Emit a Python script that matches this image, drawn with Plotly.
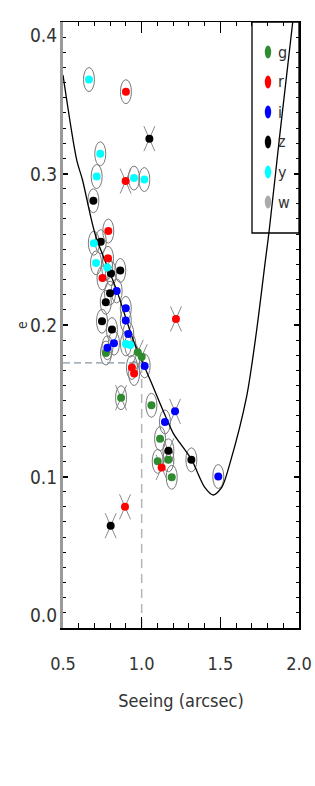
import plotly.graph_objects as go

# ---------------- data ----------------
band_names = ["g", "r", "i", "z", "y", "w"]
band_colors = ["#2e8b2e", "#ff0000", "#0000ff", "#000000", "#00ffff", "#aaaaaa"]

# seeing (arcsec), ellipticity, flags: ring (1/0), cross (1/0)
g_seeing = [0.773, 0.975, 1.000, 0.869, 1.062, 1.117, 1.102, 1.170, 1.191]
g_e      = [0.1815, 0.182, 0.179, 0.152, 0.147, 0.125, 0.110, 0.111, 0.0995]
g_ring   = [1, 0, 0, 1, 1, 1, 1, 1, 1]
g_cross  = [0, 1, 1, 1, 0, 0, 0, 0, 0]

r_seeing = [0.900, 0.898, 0.788, 0.786, 0.751, 1.218, 0.938, 0.952, 1.127, 0.894]
r_e      = [0.354, 0.295, 0.262, 0.244, 0.231, 0.204, 0.172, 0.168, 0.106, 0.080]
r_ring   = [1, 0, 1, 1, 1, 0, 1, 1, 0, 0]
r_cross  = [0, 1, 0, 0, 0, 1, 0, 0, 1, 1]

i_seeing = [0.841, 0.899, 0.899, 0.915, 0.824, 0.782, 1.019, 1.212, 1.148, 1.487]
i_e      = [0.2225, 0.211, 0.203, 0.194, 0.188, 0.185, 0.173, 0.143, 0.136, 0.100]
i_ring   = [1, 1, 1, 1, 1, 1, 1, 0, 1, 1]
i_cross  = [0, 0, 0, 0, 0, 0, 0, 1, 0, 0]

z_seeing = [1.049, 0.693, 0.740, 0.864, 0.805, 0.799, 0.772, 0.748, 0.811, 1.170, 1.316, 0.803]
z_e      = [0.323, 0.282, 0.255, 0.236, 0.234, 0.221, 0.215, 0.2025, 0.197, 0.117, 0.111, 0.0675]
z_ring   = [0, 1, 1, 1, 1, 1, 1, 1, 1, 1, 1, 0]
z_cross  = [1, 0, 0, 0, 0, 0, 0, 0, 0, 1, 0, 1]

y_seeing = [0.665, 0.737, 0.714, 0.951, 1.017, 0.696, 0.710, 0.781, 0.900, 0.928]
y_e      = [0.362, 0.313, 0.298, 0.297, 0.296, 0.254, 0.241, 0.238, 0.1875, 0.1868]
y_ring   = [1, 1, 1, 1, 1, 1, 1, 1, 1, 1]
y_cross  = [0, 0, 0, 0, 0, 0, 0, 0, 0, 0]

w_seeing = []
w_e      = []
w_ring   = []
w_cross  = []

# fitted curve, sampled from the figure
curve_seeing = [0.50, 0.587, 0.624, 0.706, 0.841, 0.947, 1.053, 1.201, 1.244, 1.318,
                1.400, 1.455, 1.510, 1.561, 1.667, 1.731, 1.784, 1.811, 1.879, 1.960]
curve_e      = [0.365, 0.309, 0.2957, 0.2594, 0.223, 0.190, 0.164, 0.1285, 0.122, 0.111,
                0.093, 0.0878, 0.093, 0.1087, 0.1527, 0.1967, 0.2407, 0.2627, 0.3265, 0.3998]

ref_seeing = 1.0
ref_e = 0.175

x_ticks = [0.5, 1.0, 1.5, 2.0]
x_ticktext = ["0.5", "1.0", "1.5", "2.0"]
y_ticks = [0.0, 0.1, 0.2, 0.3, 0.4]
y_ticktext = ["0.0", "0.1", "0.2", "0.3", "0.4"]

bands = [
    (g_seeing, g_e, g_ring, g_cross),
    (r_seeing, r_e, r_ring, r_cross),
    (i_seeing, i_e, i_ring, i_cross),
    (z_seeing, z_e, z_ring, z_cross),
    (y_seeing, y_e, y_ring, y_cross),
    (w_seeing, w_e, w_ring, w_cross),
]

# ---------------- figure ----------------
W, H = 315, 786
ml, mr, mt, mb = 63, 16, 22, 158
pw, ph = W - ml - mr, H - mt - mb
xr = (0.5, 2.0)
yr = (0.0, 0.4)
px_x = (xr[1] - xr[0]) / pw   # data units per px
px_y = (yr[1] - yr[0]) / ph

FONT = "Liberation Sans Narrow, DejaVu Sans Condensed, Arial Narrow, sans-serif"
TXT = "#333333"

fig = go.Figure()
shapes = []

# reference dashed lines
fig.add_trace(go.Scatter(x=[xr[0], ref_seeing], y=[ref_e, ref_e], mode="lines",
                         line=dict(color="#8595a5", width=1.3, dash="7px,4px"),
                         showlegend=False, hoverinfo="skip"))
fig.add_trace(go.Scatter(x=[ref_seeing, ref_seeing], y=[yr[0], ref_e], mode="lines",
                         line=dict(color="#b5b5b5", width=1.5, dash="9px,6px"),
                         showlegend=False, hoverinfo="skip"))

# rings and crosses
rw, rh = 5.5 * px_x, 12.0 * px_y
cw, ch = 5.5 * px_x, 12.5 * px_y
for (sx, ey, ring, cross) in bands:
    for s, e, rg, cr in zip(sx, ey, ring, cross):
        if rg:
            shapes.append(dict(type="circle", xref="x", yref="y", layer="below",
                               x0=s - rw, x1=s + rw, y0=e - rh, y1=e + rh,
                               line=dict(color="#7a7a7a", width=1)))
        if cr:
            shapes.append(dict(type="line", xref="x", yref="y", layer="below",
                               x0=s - cw, x1=s + cw, y0=e - ch, y1=e + ch,
                               line=dict(color="#8a8a8a", width=1)))
            shapes.append(dict(type="line", xref="x", yref="y", layer="below",
                               x0=s - cw, x1=s + cw, y0=e + ch, y1=e - ch,
                               line=dict(color="#8a8a8a", width=1)))

# fitted curve
fig.add_trace(go.Scatter(x=curve_seeing, y=curve_e, mode="lines",
                         line=dict(color="black", width=1.3, shape="spline", smoothing=0.8),
                         showlegend=False, hoverinfo="skip"))

# data dots
for name, col, (sx, ey, ring, cross) in zip(band_names, band_colors, bands):
    fig.add_trace(go.Scatter(x=sx, y=ey, mode="markers", name=name,
                             marker=dict(color=col, size=8, line=dict(width=0)),
                             showlegend=False))

# dummy traces for top/right axes
fig.add_trace(go.Scatter(x=[None], y=[None], xaxis="x2", yaxis="y2", showlegend=False))

annotations = []

# y tick labels (end labels kept inside the axis span, as in the original)
for k, (v, t) in enumerate(zip(y_ticks, y_ticktext)):
    if k == 0:
        ya = "bottom"
    elif k == len(y_ticks) - 1:
        ya = "top"
    else:
        ya = "middle"
    annotations.append(dict(text=t, xref="paper", yref="y", x=0, y=v, xshift=-4,
                            xanchor="right", yanchor=ya, showarrow=False,
                            font=dict(family=FONT, size=19, color=TXT)))

# legend box
lx0 = (252 - ml) / pw
ly0 = (H - mb - 233) / ph
shapes.append(dict(type="rect", xref="paper", yref="paper", x0=lx0, x1=1.0, y0=ly0, y1=1.0,
                   line=dict(color="black", width=1.3)))
for k, (name, col) in enumerate(zip(band_names, band_colors)):
    yc = 1.0 - (30 + 30 * k) / ph
    xc = (268 - ml) / pw
    shapes.append(dict(type="circle", xref="paper", yref="paper",
                       x0=xc - 3.2 / pw, x1=xc + 3.2 / pw, y0=yc - 6.5 / ph, y1=yc + 6.5 / ph,
                       fillcolor=col, line=dict(width=0)))
    annotations.append(dict(text=name, xref="paper", yref="paper", x=(276 - ml) / pw, y=yc,
                            xanchor="left", yanchor="middle", showarrow=False,
                            font=dict(family=FONT, size=16, color=TXT)))

fig.update_layout(
    width=W, height=H,
    margin=dict(l=ml, r=mr, t=mt, b=mb, autoexpand=False),
    paper_bgcolor="white", plot_bgcolor="white",
    shapes=shapes, annotations=annotations,
    showlegend=False,
    xaxis=dict(range=list(xr), tickvals=x_ticks, ticktext=x_ticktext,
               ticks="inside", ticklen=11, tickwidth=1, tickcolor="black",
               minor=dict(dtick=0.1, ticklen=5, tickwidth=1, tickcolor="black", ticks="inside"),
               showline=True, linecolor="black", linewidth=2, mirror=False,
               showgrid=False, zeroline=False, automargin=False,
               tickfont=dict(family=FONT, size=18, color=TXT), ticklabelstandoff=18,
               title=dict(text="Seeing (arcsec)", font=dict(family=FONT, size=18, color=TXT),
                          standoff=22)),
    yaxis=dict(range=list(yr), tickvals=y_ticks, showticklabels=False,
               ticks="inside", ticklen=5, tickwidth=1.5, tickcolor="black",
               minor=dict(dtick=0.01, ticklen=3, tickwidth=1, tickcolor="black", ticks="inside"),
               showline=True, linecolor="#9a9a9a", linewidth=2.5, mirror=False,
               showgrid=False, zeroline=False, automargin=False,
               title=dict(text="e", font=dict(family=FONT, size=14, color=TXT), standoff=30)),
    xaxis2=dict(range=list(xr), overlaying="x", side="top", anchor="y",
                ticks="inside", ticklen=11, tickwidth=1, tickcolor="black",
                tickvals=x_ticks, showticklabels=False, automargin=False,
                minor=dict(dtick=0.1, ticklen=4, tickwidth=1, tickcolor="black", ticks="inside"),
                showline=True, linecolor="black", linewidth=1.3,
                showgrid=False, zeroline=False),
    yaxis2=dict(range=list(yr), overlaying="y", side="right", anchor="x",
                ticks="inside", ticklen=5, tickwidth=1.5, tickcolor="black",
                tickvals=y_ticks, showticklabels=False, automargin=False,
                minor=dict(dtick=0.01, ticklen=3, tickwidth=1, tickcolor="black", ticks="inside"),
                showline=True, linecolor="black", linewidth=1.5,
                showgrid=False, zeroline=False),
)

fig.write_html("out.html", config={"displayModeBar": False},
               post_script="document.body.style.margin='0';document.body.style.padding='0';")
